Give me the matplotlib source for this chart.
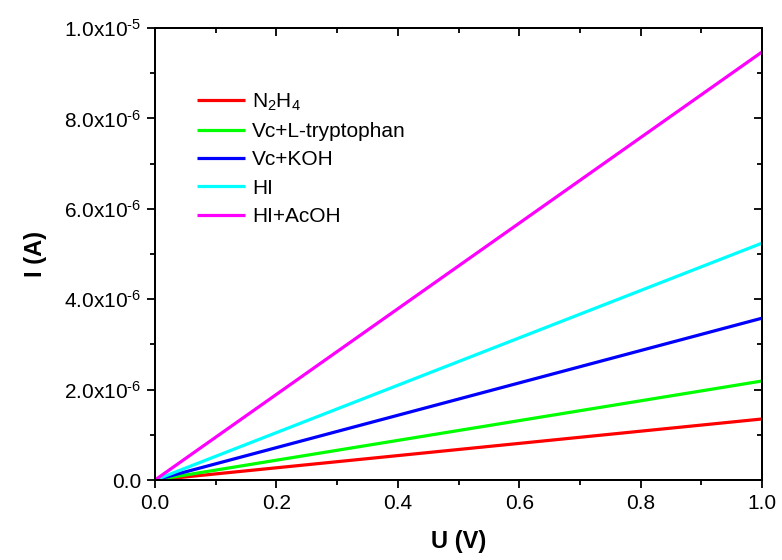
import math
import matplotlib
matplotlib.use("Agg")
import matplotlib.pyplot as plt
from matplotlib.ticker import MultipleLocator, FuncFormatter, NullFormatter

plt.rcParams['font.family'] = ['Liberation Sans', 'DejaVu Sans']
plt.rcParams['mathtext.fontset'] = 'custom'
plt.rcParams['mathtext.rm'] = 'Liberation Sans'
plt.rcParams['mathtext.it'] = 'Liberation Sans'
plt.rcParams['mathtext.bf'] = 'Liberation Sans:bold'

voltage = [0.0, 1.0]
labels = [r'N$_2$H$_4$', 'Vc+L-tryptophan', 'Vc+KOH', 'HI', 'HI+AcOH']
current_n2h4 = [0.0, 1.35e-6]
current_vc_trp = [0.0, 2.19e-6]
current_vc_koh = [0.0, 3.58e-6]
current_hi = [0.0, 5.24e-6]
current_hi_acoh = [0.0, 9.47e-6]
series = [current_n2h4, current_vc_trp, current_vc_koh, current_hi, current_hi_acoh]
colors = ['#ff0000', '#00ff00', '#0000ff', '#00ffff', '#ff00ff']

fig = plt.figure(figsize=(7.82, 5.6), dpi=100)
ax = fig.add_axes([155/782, 1-480/560, (762-155)/782, (480-28)/560])

for vals, lab, c in zip(series, labels, colors):
    ax.plot(voltage, vals, color=c, lw=2.3, label=lab, solid_capstyle='butt', zorder=3)

XLIM = (0, 1.0)
YLIM = (0, 1.0e-5)
ax.set_xlim(*XLIM)
ax.set_ylim(*YLIM)
ax.xaxis.set_major_locator(MultipleLocator(0.2))
ax.xaxis.set_minor_locator(MultipleLocator(0.1))
ax.yaxis.set_major_locator(MultipleLocator(2e-6))
ax.yaxis.set_minor_locator(MultipleLocator(1e-6))

def yfmt(v, pos):
    if abs(v) < 1e-12:
        return '0.0'
    e = int(math.floor(math.log10(abs(v)) + 1e-9))
    m = v / 10**e
    return r'$\mathregular{%.1fx10^{\text{-}%d}}$' % (m, abs(e))

ax.yaxis.set_major_formatter(FuncFormatter(yfmt))
ax.xaxis.set_major_formatter(FuncFormatter(lambda v, p: '%.1f' % v))

ax.tick_params(axis='both', which='major', direction='out', length=6, width=1.3, pad=4)
ax.tick_params(axis='both', which='minor', direction='out', length=3.5, width=1.3)
ax.tick_params(top=False, right=False, which='both')
for t in ax.get_yticklabels():
    t.set_fontsize(15)
for t in ax.get_xticklabels():
    t.set_fontsize(15)
    t.set_family(['Liberation Sans Narrow', 'Liberation Sans'])

# mirrored inward ticks on top and right
axt = ax.twiny()
axt.set_xlim(*XLIM)
axt.xaxis.set_major_locator(MultipleLocator(0.2))
axt.xaxis.set_minor_locator(MultipleLocator(0.1))
axt.xaxis.set_major_formatter(NullFormatter())
axt.tick_params(which='major', direction='in', length=6, width=1.3)
axt.tick_params(which='minor', direction='in', length=3.5, width=1.3)

axr = ax.twinx()
axr.set_ylim(*YLIM)
axr.yaxis.set_major_locator(MultipleLocator(2e-6))
axr.yaxis.set_minor_locator(MultipleLocator(1e-6))
axr.yaxis.set_major_formatter(NullFormatter())
axr.yaxis.get_offset_text().set_visible(False)
axr.tick_params(which='major', direction='in', length=6, width=1.3)
axr.tick_params(which='minor', direction='in', length=3.5, width=1.3)

for a in (ax, axt, axr):
    for s in a.spines.values():
        s.set_linewidth(1.3)

ax.set_xlabel('U (V)', fontsize=17, fontweight='bold', labelpad=12)
ax.set_ylabel('I (A)', fontsize=17, fontweight='bold', labelpad=12)

axr.legend(*ax.get_legend_handles_labels(), loc='upper left', bbox_to_anchor=(0.069, 0.86),
           frameon=False, fontsize=15, handlelength=2.3, handletextpad=0.35,
           labelspacing=0.45, borderaxespad=0, borderpad=0)

fig.savefig('out.png', dpi=100)
